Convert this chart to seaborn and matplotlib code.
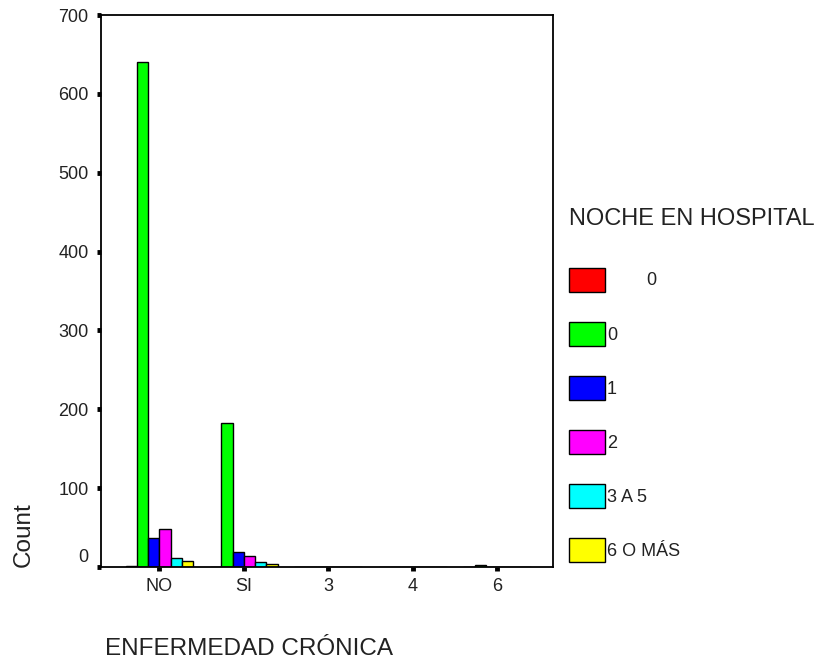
import matplotlib
matplotlib.use("Agg")
import matplotlib.pyplot as plt
import matplotlib.transforms as mtransforms
import seaborn as sns
import pandas as pd

# ---- data ----
categories = ["NO", "SI", "3", "4", "6"]
hue_levels = ["        0", "0", "1", "2", "3 A 5", "6 O MÁS"]
counts_blank = [1, 0, 0, 0, 0]
counts_0 = [640, 183, 0, 0, 2]
counts_1 = [37, 19, 0, 0, 0]
counts_2 = [48, 14, 0, 0, 0]
counts_3a5 = [12, 6, 0, 0, 0]
counts_6omas = [7, 4, 0, 0, 0]
yticks = [0, 100, 200, 300, 400, 500, 600, 700]
colors = ["#FF0000", "#00FF00", "#0000FF", "#FF00FF", "#00FFFF", "#FFFF00"]

series = [counts_blank, counts_0, counts_1, counts_2, counts_3a5, counts_6omas]
rows = []
for lvl, vals in zip(hue_levels, series):
    for cat, v in zip(categories, vals):
        rows.append({"ENFERMEDAD CRÓNICA": cat, "NOCHE EN HOSPITAL": lvl, "Count": v})
df = pd.DataFrame(rows)

sns.set_style("white")
plt.rcParams["font.family"] = ["Liberation Sans", "DejaVu Sans"]

fig = plt.figure(figsize=(8.19, 6.6), dpi=100)
ax = fig.add_axes([101 / 819, 1 - 567 / 660, 452 / 819, 552 / 660])

sns.barplot(data=df, x="ENFERMEDAD CRÓNICA", y="Count", hue="NOCHE EN HOSPITAL",
            order=categories, hue_order=hue_levels, palette=colors,
            edgecolor="black", linewidth=1.0, errorbar=None, width=0.8,
            saturation=1, ax=ax)

ax.set_ylim(0, 700)
ax.set_xlim(-0.69, 4.66)
ax.set_yticks(yticks)
ax.set_yticklabels([str(t) for t in yticks])
for s in ax.spines.values():
    s.set_visible(True)
    s.set_color("black")
    s.set_linewidth(1.3)
ax.tick_params(axis="both", which="major", direction="out", length=3, width=3.5,
               color="black", labelsize=13, labelcolor="#222222")
ax.tick_params(axis="y", pad=6, left=True)
ax.tick_params(axis="x", pad=5, bottom=True)

# shift "0" tick label up, as in reference
ticks = ax.yaxis.get_major_ticks()
ticks[0].label1.set_transform(ticks[0].label1.get_transform() +
                              mtransforms.ScaledTranslation(0, 12 / 100, fig.dpi_scale_trans))

ax.set_ylabel("Count", fontsize=17.5, loc="bottom", labelpad=17, color="#222222")
ax.set_xlabel("ENFERMEDAD CRÓNICA", fontsize=17.5, loc="left", labelpad=31, color="#222222")
ax.xaxis.get_label().set_transform(ax.xaxis.get_label().get_transform() +
                                   mtransforms.ScaledTranslation(4 / 100, 0, fig.dpi_scale_trans))

leg = ax.legend(title="NOCHE EN HOSPITAL", loc="upper left",
                bbox_to_anchor=(560 / 819, 1 - 199 / 660), bbox_transform=fig.transFigure,
                frameon=False, fontsize=13, title_fontsize=17, handlelength=2.0,
                handleheight=1.67, handletextpad=0.1, labelspacing=1.67,
                borderpad=0, alignment="left")
leg._legend_box.sep = 27
for t in leg.get_texts():
    t.set_color("#222222")
leg.get_title().set_color("#222222")

fig.savefig("out.png", dpi=100)
